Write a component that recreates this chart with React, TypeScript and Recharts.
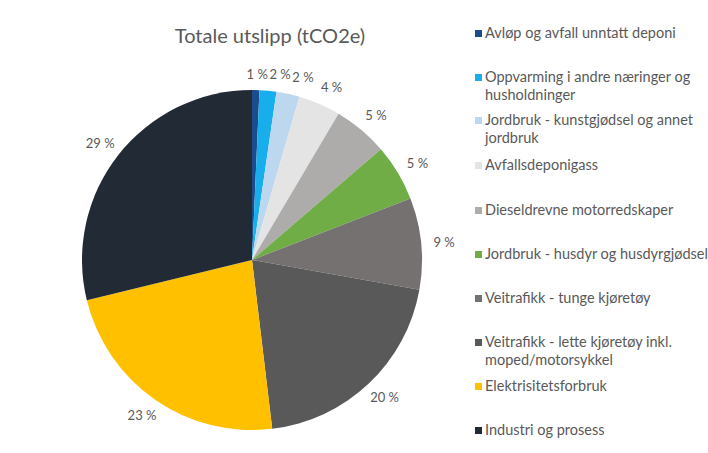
import React from "react";
import { PieChart, Pie, Cell, Legend } from "recharts";

const categories = [
  "Avløp og avfall unntatt deponi",
  "Oppvarming i andre næringer og husholdninger",
  "Jordbruk - kunstgjødsel og annet jordbruk",
  "Avfallsdeponigass",
  "Dieseldrevne motorredskaper",
  "Jordbruk - husdyr og husdyrgjødsel",
  "Veitrafikk - tunge kjøretøy",
  "Veitrafikk - lette kjøretøy inkl. moped/motorsykkel",
  "Elektrisitetsforbruk",
  "Industri og prosess",
];
const shares = [0.7, 1.6, 2.2, 4.0, 5.2, 5.4, 8.7, 20.3, 23.1, 28.8];
const colors = [
  "#1B4C8C",
  "#17AEEB",
  "#BDD7EE",
  "#E4E4E4",
  "#AEABAB",
  "#70AD47",
  "#767171",
  "#595959",
  "#FFC000",
  "#222A35",
];
const legendTops = [33, 77, 120, 165, 210, 254, 298, 342, 386, 430];

const data = categories.map((name, i) => ({ name, value: shares[i] }));

const RAD = Math.PI / 180;
const TEXT = "#595959";
const FONT = "Lato, 'Open Sans', sans-serif";
// small nudges so crowded labels do not collide (as in the original)
const labelNudgeX: Record<number, number> = { 0: 1, 1: 10, 2: 10, 3: 3 };
const labelNudgeY: Record<number, number> = { 0: 3, 1: 2, 2: 2 };

const renderLabel = (props: any) => {
  const { cx, cy, midAngle, outerRadius, value, index } = props;
  const c = Math.cos(-midAngle * RAD);
  const s = Math.sin(-midAngle * RAD);
  const r = outerRadius + 11;
  const x = cx + r * c + c * 12 + (labelNudgeX[index] || 0);
  const y = cy + r * s + s * 8 + (labelNudgeY[index] || 0);
  return (
    <text
      x={x}
      y={y}
      fill={TEXT}
      fontSize={13}
      fontFamily={FONT}
      textAnchor="middle"
      dominantBaseline="central"
    >
      {Math.round(value)} %
    </text>
  );
};

const renderLegend = () => (
  <div style={{ position: "relative", width: 708, height: 453 }}>
    {categories.map((name, i) => (
      <div
        key={name}
        style={{
          position: "absolute",
          left: 475,
          top: legendTops[i] - 9,
          width: 233,
          display: "flex",
          alignItems: "flex-start",
          fontFamily: FONT,
          fontSize: 14.5,
          lineHeight: "18px",
          color: TEXT,
          textAlign: "left",
        }}
      >
        <span
          style={{
            display: "inline-block",
            width: 7,
            height: 7,
            background: colors[i],
            marginTop: 6,
            marginRight: 3,
            flex: "0 0 auto",
          }}
        />
        <span>{name}</span>
      </div>
    ))}
  </div>
);

export default function App() {
  return (
    <div style={{ position: "fixed", left: 0, top: 0, width: 708, height: 453, background: "#fff" }}>
      <PieChart width={708} height={453} margin={{ top: 0, right: 0, bottom: 0, left: 0 }}>
        <text
          x={270}
          y={35}
          textAnchor="middle"
          dominantBaseline="central"
          fontFamily={FONT}
          fontSize={20}
          fill={TEXT}
        >
          Totale utslipp (tCO2e)
        </text>
        <Pie
          data={data}
          dataKey="value"
          nameKey="name"
          cx={252}
          cy={260}
          outerRadius={170}
          startAngle={90}
          endAngle={-270}
          stroke="none"
          label={renderLabel}
          labelLine={false}
          isAnimationActive={false}
        >
          {data.map((d, i) => (
            <Cell key={d.name} fill={colors[i]} />
          ))}
        </Pie>
        <Legend
          content={renderLegend}
          wrapperStyle={{ left: 0, top: 0, width: 708, height: 453 }}
        />
      </PieChart>
    </div>
  );
}
